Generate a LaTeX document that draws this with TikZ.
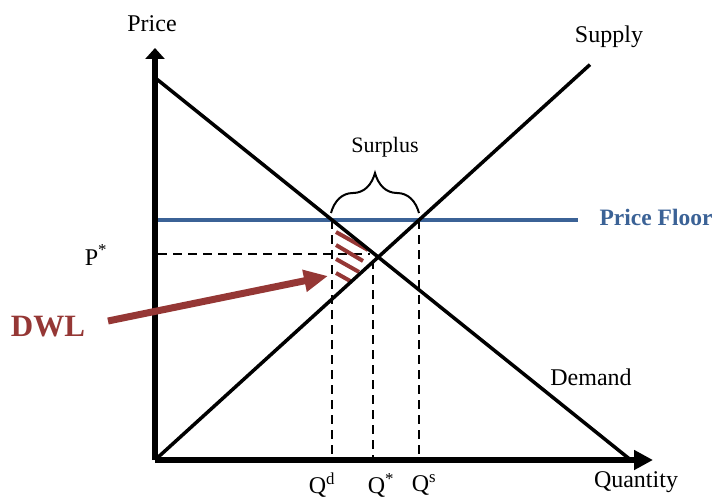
\documentclass[tikz,border=0pt]{standalone}
\usepackage{fontspec}
\setmainfont{Liberation Serif}
\usetikzlibrary{arrows.meta, decorations.pathreplacing, positioning}
\definecolor{floorblue}{HTML}{3B6296}
\definecolor{dwlred}{HTML}{953735}

\begin{document}
\begin{tikzpicture}[x=1pt, y=-1pt,
  axis/.style={line width=6.3pt},
  curve/.style={line width=3.5pt},
  guide/.style={line width=2.8pt, dash pattern=on 9pt off 6pt},
  hatch/.style={line width=4pt, color=dwlred},
  lbl/.style={font=\fontsize{24}{28}\selectfont, inner sep=0pt}
]
\useasboundingbox (0,0) rectangle (712,500);

% Key points
\coordinate (origin) at (155,460);
\coordinate (ytip) at (155,48);
\coordinate (xtip) at (653,460);
\coordinate (dtop) at (155,77.7);
\coordinate (dend) at (632,461);
\coordinate (send) at (590,64.6);
\coordinate (qd) at (332,220);
\coordinate (qs) at (419,220);
\coordinate (pstar) at (155,254);

% Guide lines
\draw[guide] (qd) -- (332,460);
\draw[guide] (373,260) -- (373,460);
\draw[guide] (qs) -- (419,460);
\draw[guide] (158,254) -- (370,254);

% Deadweight loss hatch
\draw[hatch] (336,232) -- (368,250);
\draw[hatch] (336,245) -- (363,261);
\draw[hatch] (336,259) -- (359,272);
\draw[hatch] (336,273) -- (352,282);

% Price floor
\draw[line width=3.5pt, floorblue] (origin |- qd) -- (578,220);

% Demand and supply
\draw[curve] (dtop) -- (dend);
\draw[curve] (origin) -- (send);

% Axes
\draw[axis, -{Triangle[length=11pt, width=19pt]}] (origin) -- (ytip);
\draw[axis, -{Triangle[length=19pt, width=19pt]}] (origin) -- (xtip);

% Surplus brace
\draw[line width=2pt, decorate, decoration={brace, amplitude=40pt}] (331,213) -- (419,213);
\node[lbl, font=\fontsize{22}{26}\selectfont] (surplus) at (385,147) {Surplus};

% DWL arrow
\node[lbl, font=\fontsize{31}{35}\selectfont\bfseries, text=dwlred] (dwl) at (48,327) {DWL};
\coordinate (dwltail) at (108,321);
\coordinate (dwltip) at (328,276);
\draw[line width=7pt, dwlred, -{Triangle[length=24pt, width=21pt]}] (dwltail) -- (dwltip);

% Labels
\node[lbl] (price) at (152,24) {Price};
\node[lbl] (quantity) at (636,482) {Quantity};
\node[lbl] (supply) at (609,37) {Supply};
\node[lbl] (demand) at (591,377) {Demand};
\node[lbl, font=\fontsize{23.5}{27}\selectfont\bfseries, text=floorblue] (floor) at (656,217) {Price Floor};
\node[lbl] (plabel) at (96,255) {P\textsuperscript{*}};
\node[lbl] (qdlabel) at (322,485) {Q\textsuperscript{d}};
\node[lbl] (qstar) at (381,485) {Q\textsuperscript{*}};
\node[lbl] (qslabel) at (424,485) {Q\textsuperscript{s}};
\end{tikzpicture}
\end{document}
